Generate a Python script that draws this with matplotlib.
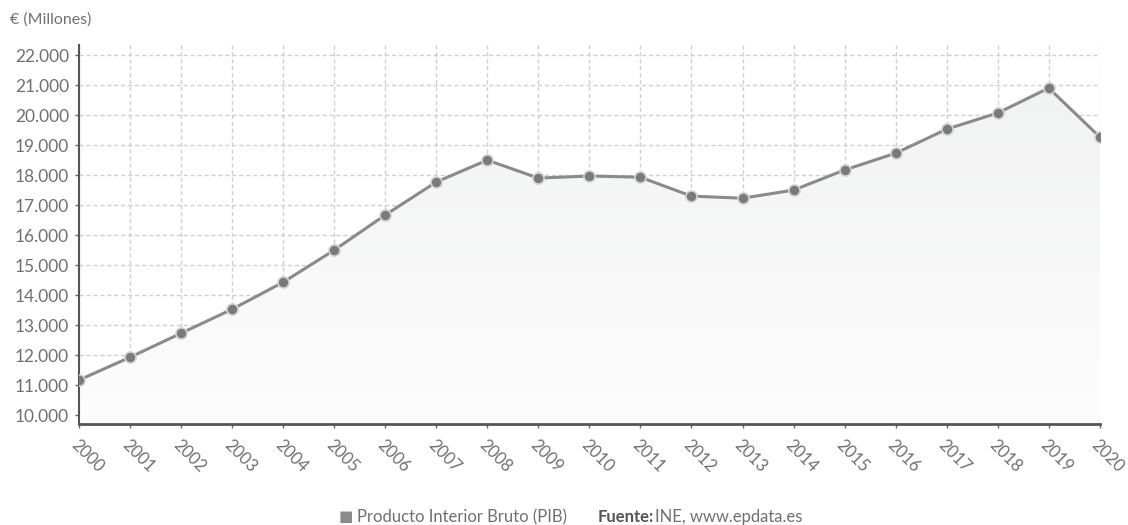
import numpy as np
import matplotlib.pyplot as plt
from matplotlib.colors import LinearSegmentedColormap
from matplotlib.patches import Polygon

plt.rcParams['font.family'] = ['Lato', 'DejaVu Sans']

years = list(range(2000, 2021))
pib = [11170, 11930, 12730, 13530, 14430, 15500, 16670, 17770, 18500, 17900,
       17970, 17930, 17300, 17230, 17500, 18170, 18730, 19530, 20070, 20900, 19270]
y_ticks = list(range(10000, 23000, 1000))
y_labels = [f"{v // 1000}.000" for v in y_ticks]

text_col = '#707070'
line_col = '#8a8a8a'

fig = plt.figure(figsize=(11.28, 5.25), dpi=100)
ax = fig.add_axes([0.070, 0.192, 0.905, 0.722])

ymin, ymax = 9700, 22330
ax.set_xlim(years[0], years[-1])
ax.set_ylim(ymin, ymax)

# gradient area under the line
grad = np.linspace(1, 0, 256).reshape(-1, 1)
cmap = LinearSegmentedColormap.from_list('g', ['#fdfdfd', '#f1f2f2'])
img = ax.imshow(grad, extent=[years[0], years[-1], ymin, max(pib)], aspect='auto',
                cmap=cmap, origin='upper', zorder=1)
verts = [(years[0], ymin)] + list(zip(years, pib)) + [(years[-1], ymin)]
poly = Polygon(verts, closed=True, facecolor='none', edgecolor='none')
ax.add_patch(poly)
img.set_clip_path(poly)

ax.plot(years, pib, color=line_col, lw=2.2, zorder=3,
        marker='o', markersize=8, markerfacecolor='#7a7a7a',
        markeredgecolor='#d4d4d4', markeredgewidth=1.2)

ax.set_xticks(years)
ax.set_xticklabels([str(y) for y in years], rotation=-45, ha='left', va='top',
                   rotation_mode='anchor', fontsize=12, color=text_col)
ax.set_yticks(y_ticks)
ax.set_yticklabels(y_labels, fontsize=12.5, color=text_col)
ax.tick_params(axis='both', length=3, width=1, color='#666666', pad=4)
ax.tick_params(axis='x', pad=6)

ax.grid(True, color='#cfcfcf', linestyle=(0, (3, 2)), linewidth=1, zorder=0)
ax.set_axisbelow(True)
for s in ['top', 'right']:
    ax.spines[s].set_visible(False)
ax.spines['left'].set_color('#555555')
ax.spines['left'].set_linewidth(1.5)
ax.spines['bottom'].set_color('#555555')
ax.spines['bottom'].set_linewidth(2)

fig.text(10 / 1128, 1 - 20 / 525, '€ (Millones)', fontsize=11.5, color=text_col,
         ha='left', va='center')

fig.text(339 / 1128, 1 - 517 / 525, '■', fontsize=11, color='#8a8a8a', ha='left', va='center')
fig.text(357 / 1128, 1 - 517 / 525, 'Producto Interior Bruto (PIB)', fontsize=12,
         color=text_col, ha='left', va='center')
fig.text(598 / 1128, 1 - 517 / 525, 'Fuente:', fontsize=12, color='#555555',
         fontweight='bold', ha='left', va='center')
fig.text(655 / 1128, 1 - 517 / 525, 'INE, www.epdata.es', fontsize=12,
         color=text_col, ha='left', va='center')

fig.savefig('out.png', dpi=100, facecolor='white')
